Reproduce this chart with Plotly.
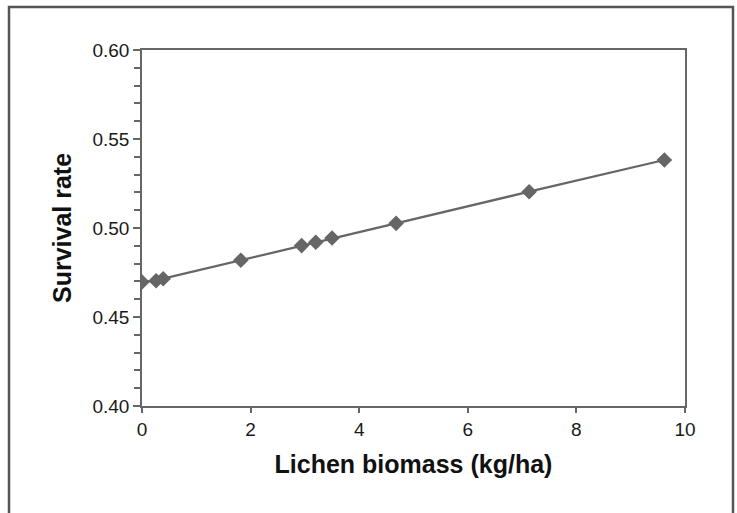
import plotly.graph_objects as go

lichen_biomass = [0, 0.26, 0.39, 1.82, 2.94, 3.20, 3.50, 4.68, 7.13, 9.62]
survival_rate = [0.4697, 0.4704, 0.4715, 0.4819, 0.4901, 0.4920, 0.4944, 0.5026, 0.5204, 0.5382]
x_ticks = [0, 2, 4, 6, 8, 10]
y_ticks = [0.40, 0.45, 0.50, 0.55, 0.60]

W, H = 737, 513
L, R, T, B = 142, 52, 50, 107
pw, ph = W - L - R, H - T - B

def px(x):
    return (x - L) / pw

def py(y):
    return (H - B - y) / ph

FONT = "Liberation Sans, Arial"

fig = go.Figure()
fig.add_trace(go.Scatter(
    x=lichen_biomass, y=survival_rate, mode="lines+markers",
    line=dict(color="#666666", width=2.3),
    marker=dict(symbol="diamond", size=12, color="#666666"),
    showlegend=False,
))

axis_common = dict(showgrid=False, zeroline=False, showline=True, linecolor="#666666",
                   linewidth=1.5, mirror=True, ticks="outside", tickcolor="#666666",
                   tickwidth=1.5, tickfont=dict(family=FONT, size=19, color="#1a1a1a"))

fig.update_xaxes(range=[0, 10], tickvals=x_ticks, ticklen=5,
                 title=dict(text="<b>Lichen biomass (kg/ha)</b>", standoff=17,
                            font=dict(family=FONT, size=25, color="#111111")),
                 **axis_common)
fig.update_yaxes(range=[0.40, 0.60], tickvals=y_ticks, tickformat=".2f", ticklen=7,
                 minor=dict(dtick=0.01, ticks="outside", ticklen=6, tickcolor="#666666", tickwidth=1.5),
                 title=dict(text="<b>Survival rate</b>", standoff=14,
                            font=dict(family=FONT, size=25, color="#111111")),
                 **axis_common)

fig.add_shape(type="rect", xref="paper", yref="paper",
              x0=px(9), x1=px(733), y0=py(540), y1=py(7),
              line=dict(color="#555555", width=2.5), fillcolor="rgba(0,0,0,0)", layer="above")

fig.update_layout(width=W, height=H, margin=dict(l=L, r=R, t=T, b=B),
                  plot_bgcolor="white", paper_bgcolor="white")

fig.write_html("out.html", config={"displayModeBar": False},
               post_script="document.body.style.margin='0';")
